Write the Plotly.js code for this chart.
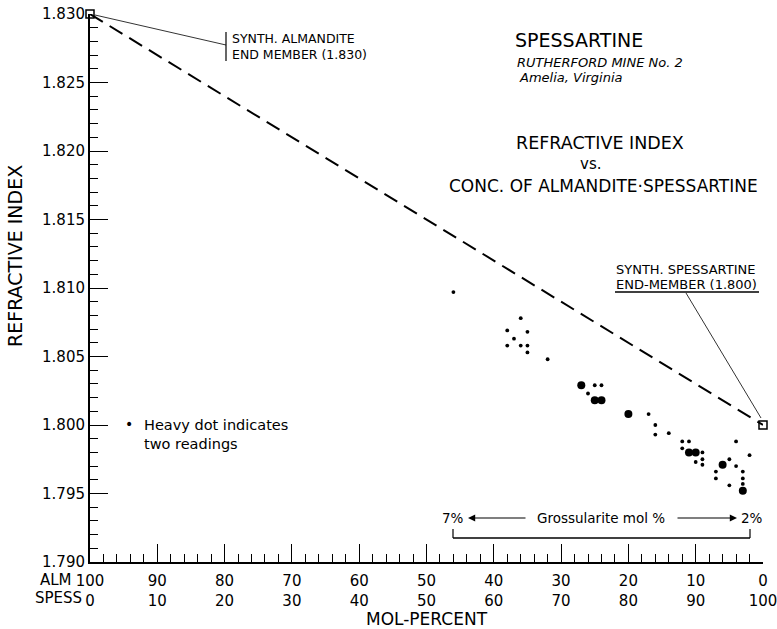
<!DOCTYPE html>
<html>
<head>
<meta charset="utf-8">
<script src="https://cdn.plot.ly/plotly-3.0.1.min.js"></script>
<style>html,body{margin:0;padding:0;background:#fff;}#chart{width:777px;height:629px;}</style>
</head>
<body>
<div id="chart"></div>
<script>
// ---- data (x = mol % spessartine, y = refractive index) ----
const endMemberSpess = [0, 100];
const endMemberRI    = [1.830, 1.800];

const singleSpess = [54, 64, 62, 65, 63, 62, 64, 65, 65, 68,
                     75, 76, 74, 83, 84, 84, 86, 88, 89, 88,
                     91, 91, 90, 91, 95, 96, 96, 98, 93, 93,
                     97, 97, 95, 97];
const singleRI    = [1.8097, 1.8078, 1.8069, 1.8068, 1.8063, 1.8058, 1.8058, 1.8058, 1.8053, 1.8048,
                     1.8029, 1.8029, 1.8023, 1.8008, 1.8000, 1.7993, 1.7994, 1.7988, 1.7988, 1.7983,
                     1.7980, 1.7975, 1.7973, 1.7971, 1.7975, 1.7970, 1.7988, 1.7978, 1.7966, 1.7961,
                     1.7966, 1.7961, 1.7956, 1.7957];

const doubleSpess = [73, 75, 76, 80, 89, 90, 94, 97];
const doubleRI    = [1.8029, 1.8018, 1.8018, 1.8008, 1.7980, 1.7980, 1.7971, 1.7952];

const xTickVals = [0, 10, 20, 30, 40, 50, 60, 70, 80, 90, 100];
const almLabels = ['100', '90', '80', '70', '60', '50', '40', '30', '20', '10', '0'];
const spessLabels = ['0', '10', '20', '30', '40', '50', '60', '70', '80', '90', '100'];
const xTickText = almLabels.map((a, i) => a + '<br>' + spessLabels[i]);

// ---- layout helpers (pixel -> paper) ----
const ML = 90, MT = 14, PW = 673, PH = 548;
const px = x => (x - ML) / PW;
const py = y => 1 - (y - MT) / PH;
const FONT = 'DejaVu Sans, Verdana, sans-serif';

const traces = [
  {
    x: endMemberSpess, y: endMemberRI, mode: 'lines+markers', type: 'scatter',
    line: {color: '#000', width: 2, dash: '15px,8px'},
    marker: {symbol: 'square-open', size: 8, color: '#000', line: {width: 1.5, color: '#000'}},
    cliponaxis: false, hoverinfo: 'skip'
  },
  {
    x: singleSpess, y: singleRI, mode: 'markers', type: 'scatter',
    marker: {symbol: 'circle', size: 3.8, color: '#000'}, cliponaxis: false
  },
  {
    x: doubleSpess, y: doubleRI, mode: 'markers', type: 'scatter',
    marker: {symbol: 'circle', size: 8, color: '#000'}, cliponaxis: false
  }
];

function line(x0, y0, x1, y1, w) {
  return {type: 'line', xref: 'paper', yref: 'paper', x0: px(x0), y0: py(y0), x1: px(x1), y1: py(y1),
          line: {color: '#000', width: w || 1}};
}
function txt(text, x, y, size, xanchor, extra) {
  return Object.assign({text: text, xref: 'paper', yref: 'paper', x: px(x), y: py(y),
    xanchor: xanchor || 'left', yanchor: 'middle', showarrow: false, align: 'left',
    font: {family: FONT, size: size, color: '#000'}}, extra || {});
}
function arrow(hx, tx, y) {
  return {text: '', xref: 'paper', yref: 'paper', x: px(hx), y: py(y), ax: tx - hx, ay: 0,
          showarrow: true, arrowhead: 2, arrowsize: 1.2, arrowwidth: 1.2, arrowcolor: '#000'};
}

const layout = {
  width: 777, height: 629,
  margin: {l: ML, r: 777 - ML - PW, t: MT, b: 629 - MT - PH, pad: 0},
  paper_bgcolor: '#fff', plot_bgcolor: '#fff',
  showlegend: false,
  font: {family: FONT, color: '#000'},
  xaxis: {
    range: [0, 100], showgrid: false, zeroline: false,
    showline: true, linecolor: '#000', linewidth: 2,
    ticks: 'inside', ticklen: 18, tickwidth: 1, tickcolor: '#000',
    tickvals: xTickVals, ticktext: xTickText,
    tickfont: {family: FONT, size: 15, color: '#000'},
    ticklabelstandoff: 4, ticklabeloverflow: 'allow',
    minor: {dtick: 2, ticks: 'inside', ticklen: 8, tickwidth: 1, tickcolor: '#000', showgrid: false},
    title: {text: 'MOL-PERCENT', font: {family: FONT, size: 17, color: '#000'}, standoff: 5},
    fixedrange: true
  },
  yaxis: {
    range: [1.790, 1.830], showgrid: false, zeroline: false,
    showline: true, linecolor: '#000', linewidth: 2,
    ticks: 'inside', ticklen: 18, tickwidth: 1, tickcolor: '#000',
    dtick: 0.005, tick0: 1.790, tickformat: '.3f',
    tickfont: {family: FONT, size: 15, color: '#000'},
    ticklabeloverflow: 'allow',
    minor: {dtick: 0.001, ticks: 'inside', ticklen: 8, tickwidth: 1, tickcolor: '#000', showgrid: false},
    fixedrange: true
  },
  shapes: [
    line(95, 15, 226, 45, 0.8),
    line(226, 32, 226, 61, 1.2),
    line(615, 292, 759, 292, 1.5),
    line(686, 293, 761, 418, 0.8),
    line(453, 529, 453, 538, 1.2),
    line(453, 538, 750, 538, 1.5),
    line(750, 538, 750, 529, 1.2)
  ],
  annotations: [
    txt('REFRACTIVE INDEX', 15, 256, 19, 'center', {textangle: -90}),
    txt('SYNTH. ALMANDITE<br>END MEMBER (1.830)', 230, 46, 12.5),
    txt('SPESSARTINE', 513, 40, 19),
    txt('<i>RUTHERFORD MINE No. 2</i>', 515, 62, 13),
    txt('<i>Amelia, Virginia</i>', 517, 78, 13),
    txt('REFRACTIVE INDEX', 600, 143, 17.5, 'center'),
    txt('vs.', 590, 164, 15, 'center'),
    txt('CONC. OF ALMANDITE\u00b7SPESSARTINE', 447, 186, 17),
    txt('SYNTH. SPESSARTINE', 614, 269, 13),
    txt('END-MEMBER (1.800)', 614, 284, 13),
    txt('\u2022', 129, 424, 14, 'center'),
    txt('Heavy dot indicates<br>two readings', 142, 434, 14.5),
    txt('7%', 466, 518, 13.5, 'right'),
    txt('Grossularite mol %', 601, 518, 13.5, 'center'),
    txt('2%', 739, 518, 13.5, 'left'),
    arrow(468, 527, 518),
    arrow(737, 676, 518),
    txt('ALM', 74, 580, 15, 'right'),
    txt('SPESS', 84, 598, 15, 'right')
  ]
};

Plotly.newPlot('chart', traces, layout, {displayModeBar: false, staticPlot: true});
</script>
</body>
</html>
